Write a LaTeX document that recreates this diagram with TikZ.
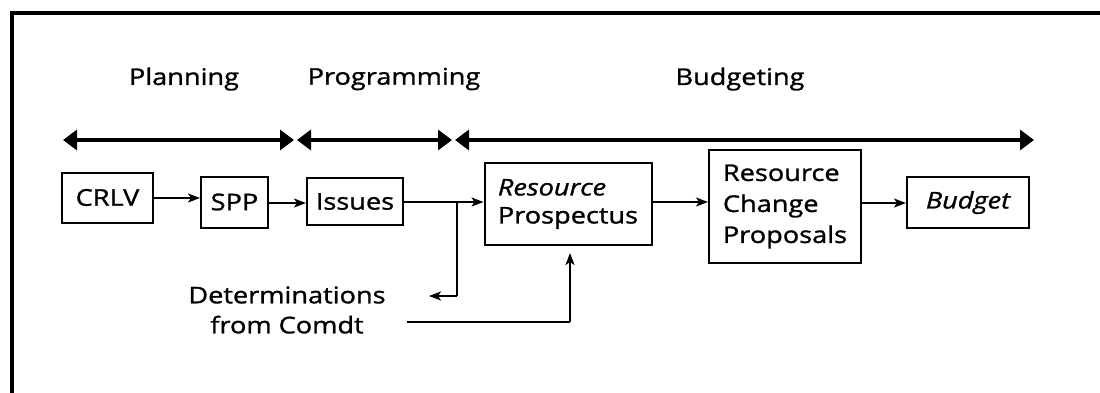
\documentclass[tikz,border=0pt]{standalone}
\usepackage{fontspec}
\setmainfont{Open Sans}[FakeStretch=1.18,FakeBold=1.2]
\usetikzlibrary{arrows.meta}
\begin{document}
\begin{tikzpicture}[x=1pt,y=-1pt,
  box/.style={draw,line width=2pt,inner sep=0pt,align=left,font=\fontsize{23}{31}\selectfont},
  phase/.style={font=\fontsize{23}{28}\selectfont},
  span/.style={line width=3.4pt,{Triangle[length=14pt,width=20pt]}-{Triangle[length=14pt,width=20pt]}},
  flow/.style={line width=1.8pt,-{Stealth[length=12pt,width=9pt,inset=3pt]}},
  plain/.style={line width=1.8pt}]
\useasboundingbox (0,0) rectangle (1100,392);
\begin{scope}
\clip (0,0) rectangle (1100,392);
\draw[line width=3.2pt] (12,420) -- (12,13) -- (1120,13);
\end{scope}
% phase labels
\node[phase] (plan) at (184,79) {Planning};
\node[phase] (prog) at (394,79) {Programming};
\node[phase] (budg) at (740,79) {Budgeting};
% phase spans
\coordinate (p1) at (63,140); \coordinate (p2) at (294,140);
\coordinate (q1) at (297,140); \coordinate (q2) at (452,140);
\coordinate (r1) at (455,140); \coordinate (r2) at (1034,140);
\draw[span] (p1) -- (p2);
\draw[span] (q1) -- (q2);
\draw[span] (r1) -- (r2);
% boxes
\node[box,minimum width=91pt,minimum height=50pt] (crlv) at (107.5,197.5) {CRLV};
\node[box,minimum width=67pt,minimum height=51pt] (spp) at (234.5,202) {SPP};
\node[box,minimum width=96pt,minimum height=47pt] (iss) at (355,201.5) {Issues};
\node[box,minimum width=167pt,minimum height=82pt,font=\fontsize{23}{28}\selectfont] (rp) at (568,204) {\itshape Resource\\Prospectus};
\node[box,minimum width=152pt,minimum height=113pt] (rcp) at (785,206.5) {Resource\\Change\\Proposals};
\node[box,minimum width=122pt,minimum height=51pt] (bud) at (968,202.5) {\itshape Budget};
\node[font=\fontsize{23}{30}\selectfont,align=center] (det) at (287,310) {Determinations\\from Comdt};
% connectors
\draw[flow] (crlv.east |- 0,198) -- (spp.west |- 0,198);
\draw[flow] (spp.east |- 0,203) -- (iss.west |- 0,203);
\draw[flow] (iss.east |- 0,202) -- (rp.west |- 0,202);
\coordinate (j) at (457,202);
\coordinate (jd) at (457,296);
\coordinate (dt) at (429,296);
\draw[plain] (j) -- (jd);
\draw[flow] (jd) -- (dt);
\coordinate (c1) at (407,322);
\coordinate (c2) at (570,322);
\draw[plain] (c1) -- (c2);
\draw[flow,shorten >=7pt] (c2) -- (rp.south -| c2);
\draw[flow] (rp.east |- 0,202) -- (rcp.west |- 0,202);
\draw[flow] (rcp.east |- 0,203) -- (bud.west |- 0,203);
\end{tikzpicture}
\end{document}
